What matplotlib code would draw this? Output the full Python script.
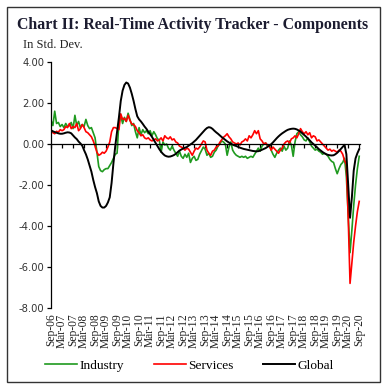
import numpy as np
import matplotlib
matplotlib.use("Agg")
import matplotlib.pyplot as plt
from matplotlib.patches import Rectangle

# monthly values, Sep-06 .. Sep-20 (one row = Sep..Aug)
industry = [
    1.15, 0.9, 1.6, 1.0, 1.05, 0.85, 0.95, 0.8, 1.0, 0.85, 0.9, 1.05,
    0.75, 1.4, 0.9, 1.1, 0.8, 0.95, 0.85, 1.2, 0.9, 0.75, 0.8, 0.55,
    0.3, -0.4, -1.1, -1.3, -1.35, -1.25, -1.2, -1.2, -1.05, -0.9, -0.7, -0.5,
    -0.45, 1.1, 1.4, 1.0, 1.3, 1.1, 1.5, 1.2, 0.9, 1.0, 0.6, 0.3,
    0.8, 0.45, 0.7, 0.55, 0.65, 0.5, 0.65, 0.4, 0.6, 0.45, 0.25, 0.2,
    -0.4, 0.1, -0.05, 0.0, -0.2, -0.3, -0.1, -0.3, -0.45, -0.6, -0.35, -0.6,
    -0.7, -0.5, -0.65, -0.45, -0.9, -0.7, -0.6, -0.8, -0.75, -0.5, -0.33, -0.15,
    -0.25, -0.55, -0.45, -0.65, -0.6, -0.4, -0.3, -0.1, 0.0, 0.15, 0.1, 0.0,
    -0.55, -0.15, 0.1, -0.3, -0.45, -0.55, -0.6, -0.65, -0.6, -0.65, -0.6, -0.7,
    -0.65, -0.6, -0.65, -0.5, -0.35, -0.2, -0.35, -0.1, 0.0, 0.05, -0.1, -0.05,
    -0.3, -0.5, -0.65, -0.45, -0.3, -0.2, -0.35, -0.1, -0.3, -0.2, 0.15, -0.05,
    -0.6, 0.1, 0.5, 0.6, 0.45, 0.35, 0.2, 0.15, 0.3, 0.1, -0.1, -0.2,
    -0.3, -0.25, -0.35, -0.4, -0.5, -0.45, -0.5, -0.6, -0.75, -0.85, -0.9, -1.2,
    -1.45, -1.2, -1.0, -0.9, -0.7, -1.6, -3.5, -5.3, -4.2, -3.0, -2.0, -1.2,
    -0.6,
]

services = [
    0.7, 0.55, 0.5, 0.62, 0.58, 0.7, 0.65, 0.7, 0.85, 0.8, 1.0, 0.75,
    0.85, 0.8, 1.0, 0.65, 0.75, 0.95, 0.8, 0.6, 0.55, 0.45, 0.35, 0.15,
    -0.1, -0.4, -0.55, -0.5, -0.4, -0.45, -0.35, -0.15, 0.1, 0.6, 0.8, 0.8,
    0.75, 0.7, 1.47, 1.2, 1.25, 1.1, 1.4, 1.15, 0.98, 0.95, 0.85, 0.65,
    0.55, 0.4, 0.45, 0.3, 0.25, 0.3, 0.2, 0.15, 0.2, 0.25, 0.15, 0.2,
    0.3, 0.15, 0.4, 0.3, 0.25, 0.35, 0.2, 0.25, 0.1, 0.05, -0.1, -0.15,
    -0.2, -0.3, -0.2, -0.25, -0.4, -0.55, -0.35, -0.2, -0.25, -0.15, 0.0, 0.15,
    0.1, -0.3, -0.45, -0.55, -0.35, -0.3, -0.15, -0.1, 0.08, 0.2, 0.33, 0.4,
    0.5, 0.35, 0.25, 0.1, 0.05, 0.0, 0.05, -0.05, 0.1, 0.15, 0.25, 0.15,
    0.4, 0.3, 0.45, 0.65, 0.5, 0.65, 0.25, 0.15, 0.0, 0.05, -0.05, -0.1,
    -0.3, -0.15, -0.25, -0.35, -0.45, -0.3, -0.2, 0.0, 0.1, 0.15, 0.05, 0.25,
    0.3, 0.4, 0.3, 0.5, 0.75, 0.6, 0.5, 0.6, 0.45, 0.55, 0.3, 0.4,
    0.35, 0.15, 0.2, 0.1, 0.0, -0.1, -0.2, -0.3, -0.25, -0.35, -0.3, -0.35,
    -0.4, -0.3, -0.35, -0.5, -0.8, -1.0, -3.6, -6.8, -5.8, -4.8, -4.0, -3.3,
    -2.8,
]

global_ = [
    0.66, 0.62, 0.58, 0.55, 0.52, 0.50, 0.50, 0.52, 0.55, 0.57, 0.56, 0.52,
    0.42, 0.32, 0.24, 0.12, 0.03, -0.08, -0.3, -0.5, -0.75, -1.05, -1.35, -1.75,
    -2.1, -2.4, -2.8, -3.02, -3.1, -3.1, -3.02, -2.85, -2.6, -1.9, -0.95, -0.1,
    0.6, 1.3, 2.1, 2.6, 2.88, 3.0, 2.95, 2.75, 2.45, 2.1, 1.7, 1.35,
    1.2, 1.1, 0.98, 0.85, 0.74, 0.6, 0.48, 0.35, 0.2, 0.05, -0.1, -0.25,
    -0.38, -0.48, -0.56, -0.6, -0.62, -0.61, -0.58, -0.54, -0.48, -0.4, -0.32, -0.27,
    -0.22, -0.18, -0.15, -0.08, -0.02, 0.04, 0.12, 0.2, 0.3, 0.4, 0.5, 0.6,
    0.7, 0.78, 0.82, 0.8, 0.74, 0.65, 0.57, 0.5, 0.42, 0.34, 0.27, 0.2,
    0.13, 0.07, 0.02, -0.03, -0.07, -0.1, -0.14, -0.18, -0.21, -0.24, -0.26, -0.28,
    -0.3, -0.32, -0.34, -0.35, -0.36, -0.35, -0.32, -0.28, -0.24, -0.2, -0.14, -0.08,
    -0.01, 0.08, 0.18, 0.28, 0.37, 0.45, 0.52, 0.58, 0.64, 0.69, 0.72, 0.74,
    0.75, 0.74, 0.71, 0.66, 0.6, 0.52, 0.44, 0.36, 0.27, 0.18, 0.08, 0.0,
    -0.08, -0.16, -0.25, -0.32, -0.39, -0.45, -0.5, -0.53, -0.55, -0.56, -0.55, -0.5,
    -0.43, -0.34, -0.24, -0.14, -0.04, -0.5, -2.0, -3.6, -2.6, -1.3, -0.7, -0.45,
    -0.25,
]

tick_labels = []
for yy in range(6, 21):
    tick_labels.append(f"Sep-{yy:02d}")
    if yy < 20:
        tick_labels.append(f"Mar-{yy + 1:02d}")

yticks = [4, 2, 0, -2, -4, -6, -8]

W, H = 387, 389
fig = plt.figure(figsize=(W / 100, H / 100), dpi=100)
serif = ["Liberation Serif", "DejaVu Serif"]

# outer frame
fig.patches.append(Rectangle((7 / W, 1 - 382 / H), 373 / W, 375 / H,
                             transform=fig.transFigure, fill=False,
                             edgecolor="#333333", linewidth=1.0))

fig.text(17 / W, 1 - 25 / H, "Chart II: Real-Time Activity Tracker - Components",
         family=serif, fontweight="bold", fontsize=11.4, color="#1c1c30",
         va="center", ha="left")
fig.text(23 / W, 1 - 45 / H, "In Std. Dev.", family=serif, fontsize=8.9,
         color="#222222", va="center", ha="left")

ax = fig.add_axes([50.5 / W, 1 - 308 / H, 310 / W, 246 / H])
x = np.arange(len(industry))
ax.plot(x, industry, color="#1f9a1f", lw=1.2, label="Industry")
ax.plot(x, services, color="#ff0000", lw=1.2, label="Services")
ax.plot(x, global_, color="#000000", lw=1.4, label="Global")

ax.set_xlim(-0.3, 168.7)
ax.set_ylim(-8, 4)
ax.set_yticks(yticks)
ax.set_yticklabels([f"{v:.2f}" for v in yticks])
ax.tick_params(axis="y", direction="out", length=3, width=0.9, pad=1.5,
               labelsize=7.2, labelcolor="#333333")
for s in ["top", "right"]:
    ax.spines[s].set_visible(False)
ax.spines["left"].set_linewidth(0.9)
ax.spines["bottom"].set_position(("data", 0))
ax.spines["bottom"].set_linewidth(0.9)
ticks = np.arange(0, len(industry), 6)
ax.set_xticks(ticks)
ax.set_xticklabels([])
ax.tick_params(axis="x", direction="out", length=3, width=0.9)

sec = ax.secondary_xaxis(0)
sec.set_xticks(ticks)
sec.set_xticklabels(tick_labels, rotation=90, family=serif, fontsize=8.3,
                    color="#222222")
sec.tick_params(axis="x", length=0, pad=4)
sec.spines["bottom"].set_visible(False)

fig.legend(loc="center", bbox_to_anchor=(0.49, 1 - 366 / H), ncol=3,
           frameon=False, prop={"family": serif, "size": 9.6},
           handlelength=2.4, handletextpad=0.2, columnspacing=2.2)

fig.savefig("out.png", dpi=100)
